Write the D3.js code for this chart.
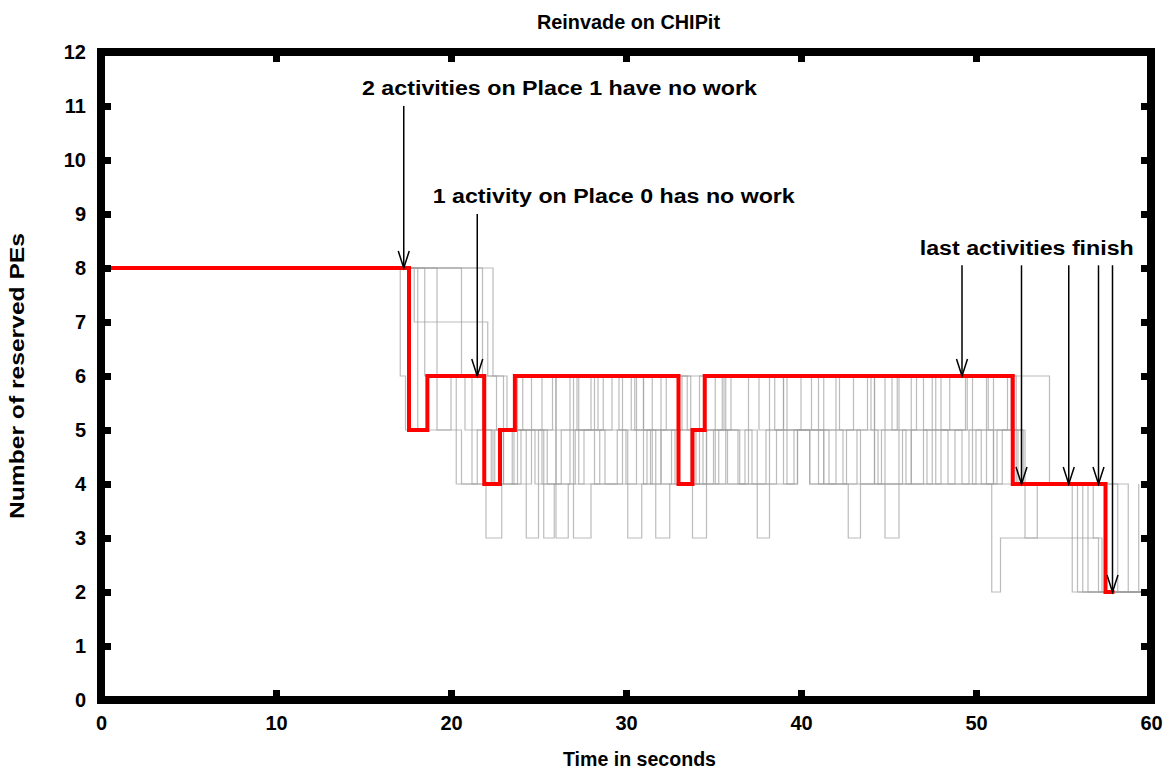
<!DOCTYPE html>
<html>
<head>
<meta charset="utf-8">
<script src="https://cdn.jsdelivr.net/npm/d3@7"></script>
<style>
  html, body { margin: 0; padding: 0; background: #fff; }
  svg { display: block; font-family: "Liberation Sans", Arial, Helvetica, sans-serif; font-weight: bold; }
</style>
</head>
<body>
<svg id="chart" width="1170" height="771"></svg>
<script>
// ---- data ----
const title = "Reinvade on CHIPit";
const xLabel = "Time in seconds";
const yLabel = "Number of reserved PEs";
const xTicks = [0, 10, 20, 30, 40, 50, 60];
const yTicks = [0, 1, 2, 3, 4, 5, 6, 7, 8, 9, 10, 11, 12];

// highlighted run (red), step after
const redTimes  = [0, 17.6, 18.65, 21.9, 22.8, 23.65, 33.0, 33.8, 34.5, 52.1, 57.4, 57.8];
const redValues = [8, 5,    6,     4,    5,    6,     4,    5,    6,    4,    2,    2];

// other runs (grey), [time, PEs] step after
const gray1 = [[0,8],[17.1,6],[17.4,5],[20.0,6],[23.2,5],[24.3,3],[25.0,5],[28.4,6],[29.6,5],[31.7,3],[32.5,4],[34.6,5],[36.0,6],[39.0,5],[41.3,6],[44.8,3],[45.6,4],[47.0,5],[49.5,6],[52.0,5],[52.8,3],[53.5,4],[56.1,2],[59.6,2]];
const gray2 = [[0,8],[17.9,7],[22.1,6],[22.6,5],[25.3,3],[25.9,4],[27.1,5],[28.7,6],[30.5,5],[33.0,4],[33.8,3],[34.6,5],[35.5,6],[38.5,5],[40.0,6],[42.2,5],[43.4,4],[46.3,5],[48.5,6],[50.6,4],[50.9,2],[51.4,3],[57.2,2],[59.7,2]];
const gray3 = [[0,8],[18.1,5],[18.7,6],[20.3,4],[22.0,3],[22.9,4],[23.8,6],[26.0,3],[26.7,4],[27.6,5],[29.2,6],[31.0,4],[32.0,5],[33.2,6],[35.1,4],[36.8,5],[37.5,3],[38.2,4],[39.6,5],[40.5,4],[42.0,6],[44.0,5],[45.5,6],[47.7,4],[50.0,5],[51.8,6],[54.2,4],[55.5,2],[59.5,2]];
const gray4 = [[0,8],[18.5,6],[19.2,5],[20.6,4],[21.5,5],[23.5,4],[24.6,6],[27.0,3],[28.0,4],[29.5,5],[30.1,3],[30.9,4],[31.5,6],[33.5,5],[35.8,4],[37.0,6],[39.2,4],[39.8,5],[41.3,4],[42.7,3],[43.4,4],[44.2,6],[46.3,4],[48.0,5],[49.2,4],[51.0,6],[52.3,4],[55.8,2],[59.4,2]];
const gray5 = [[0,8],[19.2,6],[20.8,5],[22.4,4],[23.0,5],[24.1,6],[25.2,4],[26.3,5],[28.0,6],[30.3,5],[31.4,4],[32.6,5],[34.0,4],[35.3,5],[36.5,4],[38.2,6],[40.6,5],[42.4,4],[44.6,5],[46.0,4],[47.5,6],[49.8,4],[51.5,5],[52.6,4],[56.4,2],[59.2,2]];
const gray6 = [[0,8],[20.6,6],[21.2,4],[22.5,5],[24.8,4],[26.0,6],[27.3,4],[28.5,5],[30.0,4],[31.2,5],[32.8,4],[34.2,6],[35.6,5],[37.2,4],[38.6,5],[40.5,4],[41.3,5],[43.0,6],[44.2,4],[45.8,5],[47.2,4],[48.8,5],[50.3,4],[51.2,5],[52.4,4],[58.1,2],[59.7,2]];
const gray7 = [[0,8],[21.8,5],[22.3,4],[23.6,5],[25.5,4],[26.8,6],[28.2,4],[29.8,6],[31.0,5],[32.3,6],[33.7,4],[35.0,5],[36.4,4],[38.0,5],[39.0,4],[39.8,5],[41.6,4],[43.2,5],[44.4,4],[45.6,6],[47.0,5],[48.4,4],[49.6,5],[51.0,4],[56.7,3],[57.0,2],[59.6,2]];
const gray8 = [[0,8],[22.4,6],[23.0,4],[24.0,5],[25.8,6],[27.2,5],[28.8,4],[30.6,6],[32.0,4],[33.0,5],[34.4,4],[35.7,6],[37.6,5],[39.0,6],[41.0,4],[42.6,5],[43.8,6],[45.2,5],[46.6,6],[48.0,5],[49.4,6],[50.7,5],[52.7,4],[58.7,2],[59.3,4],[59.3,2],[59.7,2]];
const grayRuns = [gray1, gray2, gray3, gray4, gray5, gray6, gray7, gray8];

// annotations
const noteTexts  = ["2 activities on Place 1 have no work", "1 activity on Place 0 has no work", "last activities finish"];
const noteTimes  = [26.2, 29.3, 52.9];
const noteLevels = [11.2, 9.2, 8.25];
const arrowTimes = [17.3, 21.5, 49.2, 52.6, 55.3, 57.0, 57.8];
const arrowFrom  = [11.0, 9.0, 8.05, 8.05, 8.05, 8.05, 8.05];
const arrowTo    = [8, 6, 6, 4, 4, 4, 2];

// ---- drawing ----
const svg = d3.select("#chart");
const x = d3.scaleLinear().domain([0, 60]).range([101, 1151]);
const y = d3.scaleLinear().domain([0, 12]).range([700, 52]);

svg.append("defs").append("clipPath").attr("id", "plotclip")
  .append("rect").attr("x", 101).attr("y", 52).attr("width", 1050).attr("height", 648);

const plot = svg.append("g").attr("clip-path", "url(#plotclip)");

const line = d3.line().x(d => x(d[0])).y(d => y(d[1])).curve(d3.curveStepAfter);

plot.selectAll("path.gray").data(grayRuns).enter().append("path")
  .attr("class", "gray")
  .attr("d", line)
  .attr("fill", "none")
  .attr("stroke", "#a0a0a0")
  .attr("stroke-opacity", 0.7)
  .attr("stroke-width", 1.2);

const redData = redTimes.map((t, i) => [t, redValues[i]]);
plot.append("path").attr("d", line(redData))
  .attr("fill", "none").attr("stroke", "#ff0000").attr("stroke-width", 4)
  .attr("stroke-linejoin", "miter").attr("stroke-linecap", "square");

// arrows
const arrows = svg.append("g").attr("stroke", "#000").attr("stroke-width", 1.5).attr("fill", "none");
arrowTimes.forEach((t, i) => {
  const ax = x(t), y0 = y(arrowFrom[i]), y1 = y(arrowTo[i]);
  arrows.append("line").attr("x1", ax).attr("x2", ax).attr("y1", y0).attr("y2", y1);
  arrows.append("path").attr("d", `M${ax - 5.5},${y1 - 17}L${ax},${y1}L${ax + 5.5},${y1 - 17}`);
});

// annotation text
const noteWidths = [395, 362, 214];
noteTexts.forEach((s, i) => {
  svg.append("text").attr("x", x(noteTimes[i])).attr("y", y(noteLevels[i]))
    .attr("text-anchor", "middle").attr("font-size", 20)
    .attr("textLength", noteWidths[i]).attr("lengthAdjust", "spacingAndGlyphs")
    .text(s);
});

// axes
const gx = svg.append("g").attr("transform", "translate(0,700)")
  .call(d3.axisBottom(x).tickValues(xTicks).tickSizeInner(-10).tickSizeOuter(0).tickPadding(26));
const gxt = svg.append("g").attr("transform", "translate(0,52)")
  .call(d3.axisTop(x).tickValues(xTicks).tickSizeInner(-10).tickSizeOuter(0).tickFormat(""));
const gy = svg.append("g").attr("transform", "translate(101,0)")
  .call(d3.axisLeft(y).tickValues(yTicks).tickSizeInner(-10).tickSizeOuter(0).tickPadding(25));
const gyr = svg.append("g").attr("transform", "translate(1151,0)")
  .call(d3.axisRight(y).tickValues(yTicks).tickSizeInner(-10).tickSizeOuter(0).tickFormat(""));

[gx, gxt, gy, gyr].forEach(g => {
  g.select(".domain").remove();
  g.selectAll(".tick line").attr("stroke", "#000").attr("stroke-width", 7);
  g.selectAll(".tick text").attr("fill", "#000").attr("font-size", 20)
    .attr("font-family", "Liberation Sans, Arial, sans-serif").attr("font-weight", "bold");
});
gx.selectAll(".tick text").attr("y", 16).attr("dy", "0.71em");
gy.selectAll(".tick text").attr("x", -15).attr("dy", "0.34em");

// frame
svg.append("rect").attr("x", 101).attr("y", 52).attr("width", 1050).attr("height", 648)
  .attr("fill", "none").attr("stroke", "#000").attr("stroke-width", 8);

// titles
svg.append("text").attr("x", 628.5).attr("y", 29).attr("text-anchor", "middle")
  .attr("font-size", 19.5).attr("textLength", 183).attr("lengthAdjust", "spacingAndGlyphs").text(title);
svg.append("text").attr("x", 639.5).attr("y", 766).attr("text-anchor", "middle")
  .attr("font-size", 19.5).attr("textLength", 153).attr("lengthAdjust", "spacingAndGlyphs").text(xLabel);
svg.append("text").attr("transform", "translate(24,376) rotate(-90)").attr("text-anchor", "middle")
  .attr("font-size", 19.5).attr("textLength", 286).attr("lengthAdjust", "spacingAndGlyphs").text(yLabel);
</script>
</body>
</html>
